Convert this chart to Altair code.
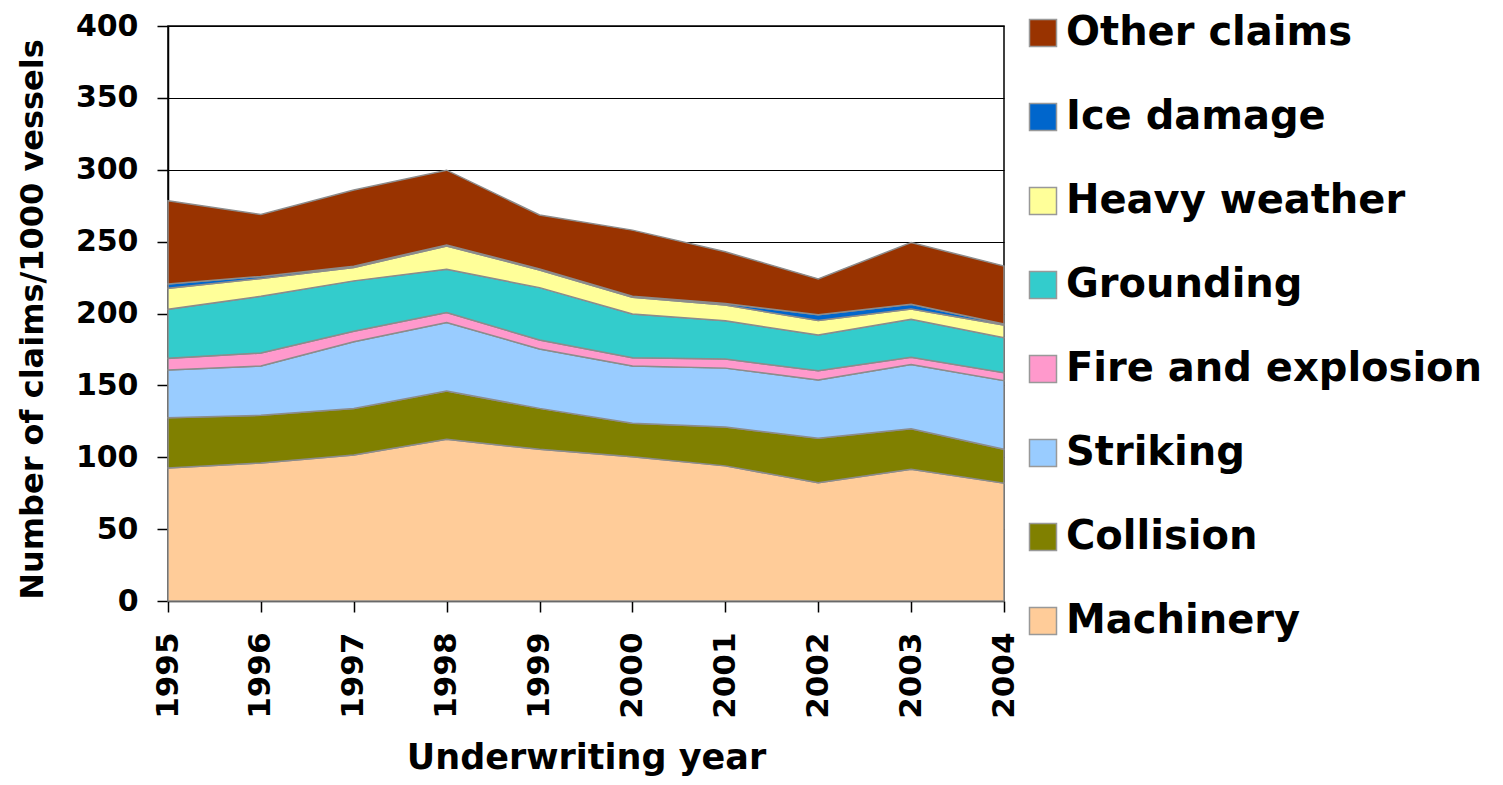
import altair as alt
import pandas as pd

years = [1995, 1996, 1997, 1998, 1999, 2000, 2001, 2002, 2003, 2004]

machinery = [92.5, 96.0, 101.5, 112.5, 105.5, 100.4, 94.0, 82.3, 91.6, 82.0]
collision = [35.0, 33.2, 32.4, 33.5, 28.5, 23.2, 27.0, 31.0, 28.3, 23.5]
striking = [33.2, 34.3, 46.4, 47.8, 41.3, 39.9, 41.0, 40.5, 44.7, 47.8]
fire = [8.1, 9.0, 7.4, 6.8, 6.3, 5.8, 6.4, 6.3, 4.9, 5.5]
grounding = [34.1, 39.5, 35.0, 30.1, 36.4, 30.4, 26.5, 25.0, 26.5, 24.4]
heavy = [14.6, 12.3, 9.3, 16.3, 12.3, 11.6, 11.0, 10.0, 7.1, 8.8]
ice = [3.0, 1.5, 0.9, 0.7, 0.7, 0.7, 1.0, 4.0, 3.3, 0.7]
other = [58.0, 43.0, 53.0, 52.0, 37.5, 46.0, 36.0, 25.0, 43.0, 40.3]

categories = ["Machinery", "Collision", "Striking", "Fire and explosion",
              "Grounding", "Heavy weather", "Ice damage", "Other claims"]
series = [machinery, collision, striking, fire, grounding, heavy, ice, other]
colors = ["#FFCC99", "#808000", "#99CCFF", "#FF99CC",
          "#33CCCC", "#FFFF99", "#0066CC", "#993300"]

rows = []
for i, (cat, vals) in enumerate(zip(categories, series)):
    for y, v in zip(years, vals):
        rows.append({"year": str(y), "category": cat, "value": v, "ord": i})
df = pd.DataFrame(rows)

legend_domain = categories[::-1]
legend_range = colors[::-1]

FONT = "DejaVu Sans"

chart = alt.Chart(df).mark_area(
    stroke="#8c8c8c", strokeWidth=1.5, interpolate="linear"
).encode(
    x=alt.X("year:O", scale=alt.Scale(type="point", padding=0),
            axis=alt.Axis(title="Underwriting year", labelAngle=270,
                          labelFontSize=31, labelPadding=20,
                          tickSize=11, titleFontSize=35,
                          titleX=418, titleY=167, titleBaseline="alphabetic",
                          titleAlign="center", grid=False)),
    y=alt.Y("value:Q", stack="zero",
            scale=alt.Scale(domain=[0, 400], nice=False),
            axis=alt.Axis(title="Number of claims/1000 vessels",
                          values=list(range(0, 401, 50)),
                          labelFontSize=30, labelPadding=19, tickSize=11,
                          titleFontSize=32, titleAngle=270, titleX=-136,
                          titleY=293, titleAlign="center",
                          titleBaseline="middle", grid=True)),
    color=alt.Color("category:N",
                    scale=alt.Scale(domain=legend_domain, range=legend_range),
                    legend=alt.Legend(title=None, orient="none",
                                      legendX=855, legendY=-13,
                                      symbolType="square", symbolSize=729,
                                      symbolStrokeColor="#999999",
                                      symbolStrokeWidth=1.5,
                                      labelFontSize=40, labelFont=FONT,
                                      labelFontWeight="bold",
                                      labelColor="black", labelOffset=3,
                                      rowPadding=44, padding=0,
                                      labelLimit=600)),
    order=alt.Order("ord:Q", sort="ascending"),
).properties(
    width=836, height=575,
    autosize=alt.AutoSizeParams(type="none"),
    padding={"left": 160, "top": 18, "right": 485, "bottom": 176},
).configure_axis(
    labelFont=FONT, titleFont=FONT, labelFontWeight="bold",
    titleFontWeight="bold", labelColor="black", titleColor="black",
    domainColor="black", domainWidth=1.5, tickColor="black", tickWidth=1.5,
    gridColor="black", gridWidth=1.2, gridOpacity=1,
).configure_view(
    stroke="black", strokeWidth=1.5
)

chart.save("out.html", embed_options={"renderer": "svg", "actions": False})
